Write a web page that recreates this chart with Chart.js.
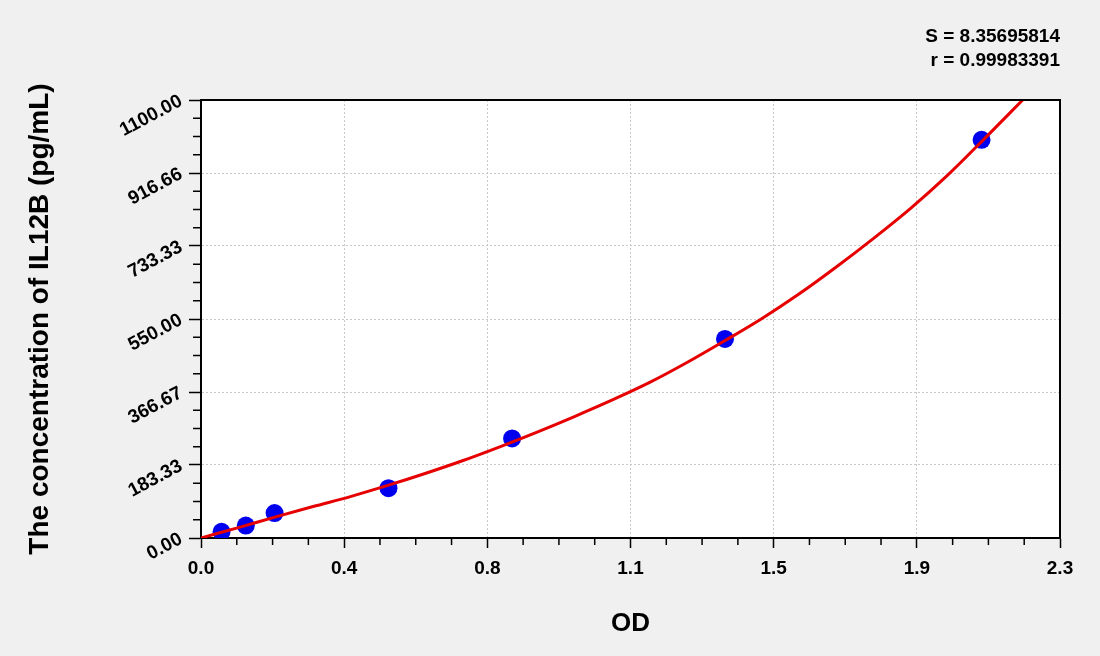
<!DOCTYPE html>
<html>
<head>
    <title>IL12B standard curve</title>
    <script src="https://cdn.jsdelivr.net/npm/chart.js"></script>
    <style>
        body { margin: 0; background: #f0f0f0; }
        #wrap { width: 1100px; height: 656px; }
    </style>
</head>
<body>
    <div id="wrap">
        <canvas id="curve"></canvas>
    </div>

    <script>
        // standards (OD, pg/mL)
        const stdOD = [0.055, 0.12, 0.197, 0.502, 0.833, 1.403, 2.09];
        const stdConc = [15.6, 31.25, 62.5, 125, 250, 500, 1000];

        // fitted curve
        const fitOD = [0, 0.1, 0.2, 0.3, 0.4, 0.5, 0.6, 0.7, 0.8, 0.9, 1.0, 1.1, 1.2, 1.3, 1.4, 1.5, 1.6, 1.7, 1.8, 1.9, 2.0, 2.1, 2.2];
        const fitConc = [0, 26, 53, 79, 104, 132, 162, 194, 229, 266, 305, 346, 390, 440, 494, 550, 612, 680, 752, 828, 912, 1005, 1100];

        // axis ticks
        const xMax = 2.3;
        const xTickLabels = ['0.0', '0.4', '0.8', '1.1', '1.5', '1.9', '2.3'];
        const yMax = 1100;
        const yTickLabels = ['0.00', '183.33', '366.67', '550.00', '733.33', '916.66', '1100.00'];

        const fitText = ['S = 8.35695814', 'r = 0.99983391'];

        const tickFont = { family: 'Liberation Sans', weight: 'bold', size: 19 };

        // white plot area, frame, minor ticks and the S / r text
        const plotDeco = {
            id: 'plotDeco',
            beforeDraw(chart) {
                const a = chart.chartArea, ctx = chart.ctx;
                ctx.save();
                ctx.fillStyle = '#ffffff';
                ctx.fillRect(a.left, a.top, a.right - a.left, a.bottom - a.top);
                ctx.restore();
            },
            afterDraw(chart) {
                const a = chart.chartArea, ctx = chart.ctx;
                ctx.save();
                ctx.strokeStyle = '#000';
                ctx.lineWidth = 2;
                ctx.beginPath();
                ctx.moveTo(a.left, a.top);
                ctx.lineTo(a.right, a.top);
                ctx.lineTo(a.right, a.bottom);
                ctx.stroke();

                // minor ticks, 3 between majors
                ctx.lineWidth = 1.5;
                const xs = chart.scales.x, ys = chart.scales.y;
                for (let i = 0; i < xs.ticks.length - 1; i++) {
                    const v0 = xs.ticks[i].value, v1 = xs.ticks[i + 1].value;
                    for (let k = 1; k < 4; k++) {
                        const px = xs.getPixelForValue(v0 + (v1 - v0) * k / 4);
                        ctx.beginPath();
                        ctx.moveTo(px, a.bottom);
                        ctx.lineTo(px, a.bottom + 7);
                        ctx.stroke();
                    }
                }
                for (let i = 0; i < ys.ticks.length - 1; i++) {
                    const v0 = ys.ticks[i].value, v1 = ys.ticks[i + 1].value;
                    for (let k = 1; k < 4; k++) {
                        const py = ys.getPixelForValue(v0 + (v1 - v0) * k / 4);
                        ctx.beginPath();
                        ctx.moveTo(a.left, py);
                        ctx.lineTo(a.left - 8, py);
                        ctx.stroke();
                    }
                }

                ctx.fillStyle = '#000';
                ctx.font = 'bold 19px "Liberation Sans"';
                ctx.textAlign = 'right';
                ctx.textBaseline = 'middle';
                ctx.fillText(fitText[0], a.right, a.top - 63);
                ctx.fillText(fitText[1], a.right, a.top - 39);
                ctx.restore();
            }
        };

        const ctx = document.getElementById('curve').getContext('2d');
        const chart = new Chart(ctx, {
            type: 'scatter',
            data: {
                datasets: [
                    {
                        label: 'fit',
                        data: fitOD.map((x, i) => ({ x: x, y: fitConc[i] })),
                        showLine: true,
                        borderColor: '#e60000',
                        borderWidth: 3,
                        pointRadius: 0,
                        tension: 0.4,
                        cubicInterpolationMode: 'monotone'
                    },
                    {
                        label: 'standards',
                        data: stdOD.map((x, i) => ({ x: x, y: stdConc[i] })),
                        backgroundColor: '#0000ee',
                        borderWidth: 0,
                        pointRadius: 9
                    }
                ]
            },
            options: {
                responsive: true,
                maintainAspectRatio: false,
                animation: false,
                layout: { padding: { left: 0, right: 40, top: 100, bottom: 0 } },
                plugins: {
                    legend: { display: false },
                    tooltip: { enabled: false }
                },
                scales: {
                    x: {
                        type: 'linear',
                        min: 0,
                        max: xMax,
                        afterBuildTicks(scale) {
                            scale.ticks = xTickLabels.map((_, i) => ({ value: i * xMax / (xTickLabels.length - 1) }));
                        },
                        afterFit(scale) { scale.height = 118; },
                        ticks: {
                            autoSkip: false,
                            maxRotation: 0,
                            padding: 9,
                            color: '#000',
                            font: tickFont,
                            callback: (v, i) => xTickLabels[i]
                        },
                        grid: {
                            color: '#c8c8c8',
                            tickColor: '#000',
                            tickLength: 10,
                            tickWidth: 1.5
                        },
                        border: { color: '#000', width: 2, dash: [2, 2] },
                        title: {
                            display: true,
                            text: 'OD',
                            color: '#000',
                            font: { family: 'Liberation Sans', weight: 'bold', size: 26 },
                            padding: { top: 0, bottom: 17 }
                        }
                    },
                    y: {
                        type: 'linear',
                        min: 0,
                        max: yMax,
                        afterBuildTicks(scale) {
                            scale.ticks = yTickLabels.map((_, i) => ({ value: i * yMax / (yTickLabels.length - 1) }));
                        },
                        afterFit(scale) { scale.width = 201; },
                        ticks: {
                            autoSkip: false,
                            minRotation: 28,
                            maxRotation: 28,
                            padding: 8,
                            color: '#000',
                            font: tickFont,
                            callback: (v, i) => yTickLabels[i]
                        },
                        grid: {
                            color: '#c8c8c8',
                            tickColor: '#000',
                            tickLength: 12,
                            tickWidth: 1.5
                        },
                        border: { color: '#000', width: 2, dash: [2, 2] },
                        title: {
                            display: true,
                            text: 'The concentration of IL12B (pg/mL)',
                            color: '#000',
                            font: { family: 'Liberation Sans', weight: 'bold', size: 28 },
                            padding: { top: 23, bottom: 0 }
                        }
                    }
                }
            },
            plugins: [plotDeco]
        });
    </script>
</body>
</html>
